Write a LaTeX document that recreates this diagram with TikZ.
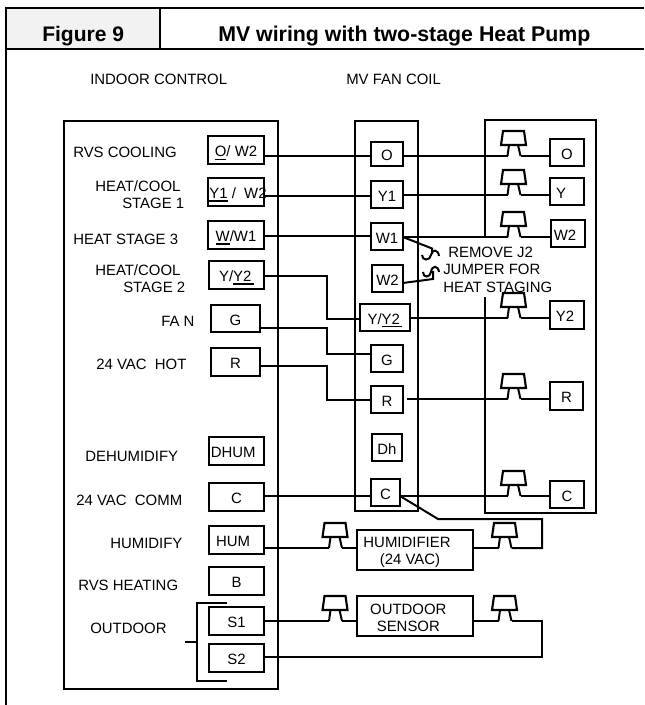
\documentclass[tikz,border=0pt]{standalone}
\usepackage{fontspec}
\setmainfont{Liberation Sans}
\newcommand\ulx[1]{\vtop{\hbox{#1}\kern 1.2pt\hrule height 1pt}}
\tikzset{
  frameline/.style={line width=2.2pt,black},
  wire/.style={line width=1.5pt,black,line join=miter},
  boxline/.style={line width=1.6pt,black},
  term/.style={draw=black,line width=1.6pt,inner sep=0pt,outer sep=0pt,font=\fontsize{11.2}{13}\selectfont,fill=none},
  lbl/.style={inner sep=0pt,font=\fontsize{11.2}{13}\selectfont,anchor=west},
  ttl/.style={inner sep=0pt,font=\bfseries\fontsize{16}{18}\selectfont,anchor=west},
  plug/.pic={
    \draw[boxline,line join=miter] (-10.5,-25) -- (10.5,-25) -- (12.5,-11) -- (-12.5,-11) -- cycle;
    \draw[wire] (-4.5,-11) -- (-6,0) coordinate (-l);
    \draw[wire] (4.5,-11) -- (7,0) coordinate (-r);
  }
}
% #1 name, #2 x1, #3 y1, #4 x2, #5 y2, #6 text
\newcommand\tbox[6]{\node[term,text height=10.2pt,text depth=0pt,minimum width={(#4-#2)*0.75pt},minimum height={(#5-#3)*0.75pt}] (#1) at ({(#2+#4)/2},{(#3+#5)/2}) {\makebox[0pt]{#6}};}
\begin{document}
\begin{tikzpicture}[x=0.75pt,y=-0.75pt]
\useasboundingbox (0,0) rectangle (644,705);
% header
\fill[black!5] (6,8) rectangle (160,49);
\draw[frameline] (644,8) -- (6,8) -- (6,705);
\draw[frameline] (6,49) -- (644,49);
\draw[frameline] (160,8) -- (160,49);
\node[ttl,font=\bfseries\fontsize{15.8}{18}\selectfont] (fig) at (42,36) {Figure 9};
\node[ttl] (title) at (218,36) {MV wiring with two-stage Heat Pump};
\node[lbl] (hdrA) at (90,79) {INDOOR CONTROL};
\node[lbl] (hdrB) at (346,79) {MV FAN COIL};
% panels
\node[draw=black,line width=1.6pt,inner sep=0pt,minimum width=160.5pt,minimum height=426pt] (indoor) at (171,405) {};
\node[draw=black,line width=1.6pt,inner sep=0pt,minimum width=47.25pt,minimum height=292.5pt] (fan) at (386.5,316) {};
\draw[boxline] (485,237) -- (485,120) -- (596,120) -- (596,513) -- (485,513) -- (485,297);
% indoor labels
\node[lbl] at (73,152) {RVS COOLING};
\node[lbl] at (95,186) {HEAT/COOL};
\node[lbl] at (122,203) {STAGE 1};
\node[lbl] at (73,239) {HEAT STAGE 3};
\node[lbl] at (95,270) {HEAT/COOL};
\node[lbl] at (123,287) {STAGE 2};
\node[lbl] at (161,321) {FA N};
\node[lbl] at (96,364) {24 VAC\ \ HOT};
\node[lbl] at (85,456) {DEHUMIDIFY};
\node[lbl] at (76,500) {24 VAC\ \ COMM};
\node[lbl] at (110,543) {HUMIDIFY};
\node[lbl] at (78,585) {RVS HEATING};
\node[lbl] at (90,628) {OUTDOOR};
% indoor terminals
\tbox{iO}{208}{136}{264}{164}{\ulx{O}/ W2}
\tbox{iY}{208}{178}{264}{206}{\kern3pt\ulx{Y1} /\ \ W2}
\tbox{iW}{208}{221}{264}{249}{\ulx{W}/W1}
\tbox{iYY}{209}{261}{264}{289}{Y/\ulx{Y2\,}}
\tbox{iG}{211}{305}{260}{332}{G}
\tbox{iR}{211}{348}{260}{376}{R}
\tbox{iD}{209}{437}{264}{465}{DHUM\kern5pt}
\tbox{iC}{209}{483}{264}{511}{C}
\tbox{iH}{209}{526}{264}{554}{HUM\kern5pt}
\tbox{iB}{209}{567}{264}{595}{B}
\tbox{iS1}{209}{607}{264}{635}{S1}
\tbox{iS2}{209}{644}{264}{672}{S2}
% bracket
\coordinate (bt) at (227,603);
\coordinate (bb) at (227,681);
\coordinate (bm) at (185,642);
\draw[line width=0.8pt] (bt) -- (197,603) -- (197,681) -- (bb);
\draw[line width=0.8pt] (bm) -- (197,642);
% fan coil terminals
\tbox{fO}{371}{142}{403}{166}{O}
\tbox{fY}{371}{181}{403}{208}{Y1}
\tbox{fW}{371}{223}{403}{250}{W1}
\tbox{fW2}{372}{265}{403}{292}{W2}
\tbox{fYY}{360}{304}{410}{331}{Y/\ulx{Y2\,}}
\tbox{fG}{371}{345}{403}{372}{G}
\tbox{fR}{371}{386}{403}{413}{R}
\tbox{fD}{372}{434}{402}{461}{Dh}
\tbox{fC}{371}{479}{400}{506}{C}
% outdoor unit terminals
\tbox{oO}{550}{139}{584}{166}{O}
\tbox{oY}{550}{178}{584}{205}{Y\kern9pt}
\tbox{oW}{551}{220}{585}{247}{W2\kern4.5pt}
\tbox{oYY}{550}{301}{584}{329}{Y2\kern3pt}
\tbox{oR}{550}{382}{583}{410}{R}
\tbox{oC}{550}{481}{584}{508}{C}
% accessories
\node[term,minimum width=87pt,minimum height=30pt,align=center] (hum) at (415,550) {\rule{0pt}{11.5pt}HUMIDIFIER\kern12pt\\(24 VAC)\kern7.5pt};
\node[term,minimum width=87pt,minimum height=30pt,align=center] (sen) at (415,616) {\rule{0pt}{11pt}OUTDOOR\kern10pt\\SENSOR\kern10pt};
% plugs
\pic (pO) at (513.5,156) {plug};
\pic (pY) at (513.5,195) {plug};
\pic (pW) at (513.5,237) {plug};
\pic (pYY) at (513.5,318) {plug};
\pic (pR) at (513.5,399) {plug};
\pic (pC) at (513.5,496) {plug};
\pic (pH1) at (335,548) {plug};
\pic (pH2) at (504.5,548) {plug};
\pic (pS1) at (335,621) {plug};
\pic (pS2) at (504.5,621) {plug};
% wires indoor -> fan coil
\draw[wire] (iO.east |- 0,156) -- (fO.west |- 0,156);
\draw[wire] (iY.east |- 0,196) -- (fY.west |- 0,196);
\draw[wire] (iW.east |- 0,236.5) -- (fW.west |- 0,236.5);
\draw[wire] (iYY.east |- 0,276) -- (327,276) -- (327,318.5) -- (fYY.west |- 0,318.5);
\draw[wire] (iG.east |- 0,327.5) -- (327,327.5) -- (327,354) -- (fG.west |- 0,354);
\draw[wire] (iR.east |- 0,366) -- (327,366) -- (327,400) -- (fR.west |- 0,400);
\draw[wire] (iC.east |- 0,496) -- (fC.west |- 0,496);
% wires fan coil -> plugs -> outdoor unit
\draw[wire] (fO.east |- 0,156) -- (pO-l);
\draw[wire] (pO-r) -- (oO.west |- pO-r);
\draw[wire] (fY.east |- 0,195) -- (pY-l);
\draw[wire] (pY-r) -- (oY.west |- pY-r);
\draw[wire] (fW.east |- 0,237) -- (pW-l);
\draw[wire] (pW-r) -- (oW.west |- pW-r);
\draw[wire] (fYY.east |- 0,318) -- (pYY-l);
\draw[wire] (pYY-r) -- (oYY.west |- pYY-r);
\draw[wire] (407,399) -- (pR-l);
\draw[wire] (pR-r) -- (oR.west |- pR-r);
\draw[wire] (fC.east |- 0,496) -- (pC-l);
\draw[wire] (pC-r) -- (oC.west |- pC-r);
% humidifier
\draw[wire] (iH.east |- pH1-l) -- (pH1-l);
\draw[wire] (pH1-r) -- (hum.west |- pH1-r);
\draw[wire] (hum.east |- pH2-l) -- (pH2-l);
\draw[wire] (pH2-r) -- (542,548) -- (542,519) -- (438,519) -- (fC.east |- 0,496);
% sensor
\draw[wire] (iS1.east |- pS1-l) -- (pS1-l);
\draw[wire] (pS1-r) -- (sen.west |- pS1-r);
\draw[wire] (sen.east |- pS2-l) -- (pS2-l);
\draw[wire] (pS2-r) -- (542,621) -- (542,657) -- (iS2.east |- 0,657);
% J2 jumper
\draw[wire] (fW.east |- 0,237) -- (432,248.5) -- (432,254);
\draw[wire] (422,255) .. controls (422,261) and (430,261) .. (431,255) .. controls (432,249) and (438,249) .. (439,256);
\draw[wire] (fW2.east |- 0,283) -- (433,279) -- (433,271);
\draw[wire] (423,272) .. controls (423,278) and (430,278) .. (431,272) .. controls (432,265) and (438,265) .. (439,272);
\node[lbl] at (448,252) {REMOVE J2};
\node[lbl] at (443,269) {JUMPER FOR};
\node[lbl] at (443,287) {HEAT STAGING};
\end{tikzpicture}
\end{document}
